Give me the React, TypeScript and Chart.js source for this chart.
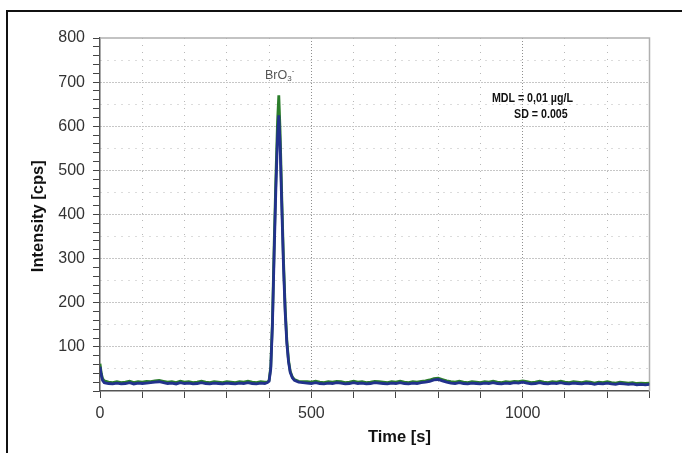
import React, { useEffect, useRef } from "react";
import { Chart, registerables } from "chart.js";

Chart.register(...registerables);

// ---- data ----
const TIME_S = [
  0, 3, 6, 10, 20, 30, 40, 50, 60, 70, 80, 90, 100, 110, 120, 130, 140, 150, 160, 170, 180, 190, 200,
  210, 220, 230, 240, 250, 260, 270, 280, 290, 300, 310, 320, 330, 340, 350, 360, 370, 380, 390,
  396, 400, 404, 408, 412, 416, 420, 423, 426, 430, 434, 438, 442, 446, 450, 455, 460, 470, 480,
  490, 500, 510, 520, 530, 540, 550, 560, 570, 580, 590, 600, 610, 620, 630, 640, 650, 660, 670, 680,
  690, 700, 710, 720, 730, 740, 750, 760, 770, 780, 790, 800, 810, 820, 830, 840, 850, 860, 870, 880,
  890, 900, 910, 920, 930, 940, 950, 960, 970, 980, 990, 1000, 1010, 1020, 1030, 1040, 1050, 1060, 1070, 1080,
  1090, 1100, 1110, 1120, 1130, 1140, 1150, 1160, 1170, 1180, 1190, 1200, 1210, 1220, 1230, 1240, 1250, 1260, 1270, 1280,
  1290, 1300,
];

const GREEN_CPS = [
  62, 40, 28, 23,
  20, 19, 21, 19, 20, 22, 19, 21, 20, 22,
  21, 23, 24, 22, 20, 21, 19, 22, 20, 21,
  19, 20, 22, 20, 19, 21, 20, 19, 21, 20,
  19, 21, 20, 22, 20, 19, 21, 20,
  20, 24, 55, 160, 330, 480, 610, 670, 590, 440, 300, 190, 115, 70, 45, 32, 26, 22, 21,
  21, 20, 22, 20, 19, 21, 20, 22, 21, 19,
  20, 22, 20, 21, 19, 20, 22, 21, 20, 19,
  21, 20, 22, 20, 19, 21, 20, 22, 23, 25,
  28, 29, 26, 23, 21, 20, 22, 20, 19, 21,
  20, 19, 21, 20, 22, 20, 19, 21, 20, 22,
  21, 23, 21, 19, 20, 22, 20, 19, 21, 20,
  22, 20, 19, 21, 20, 19, 21, 20, 18, 20,
  19, 21, 19, 18, 20, 19, 18, 19, 17, 18,
  17, 18,
];

const BLUE_CPS = [
  55, 36, 24, 19,
  17, 16, 18, 16, 17, 19, 16, 18, 17, 18,
  19, 20, 21, 19, 17, 18, 16, 19, 17, 18,
  16, 17, 19, 17, 16, 18, 17, 16, 18, 17,
  16, 18, 17, 19, 17, 16, 18, 17,
  19, 22, 50, 150, 310, 455, 575, 625, 560, 420, 285, 180, 108, 66, 42, 30, 24, 20, 19,
  18, 17, 19, 17, 16, 18, 17, 19, 18, 16,
  17, 19, 17, 18, 16, 17, 19, 18, 17, 16,
  18, 17, 19, 17, 16, 18, 17, 19, 20, 22,
  25, 26, 23, 20, 18, 17, 19, 17, 16, 18,
  17, 16, 18, 17, 19, 17, 16, 18, 17, 19,
  18, 20, 18, 16, 17, 19, 17, 16, 18, 17,
  19, 17, 16, 18, 17, 16, 18, 17, 15, 17,
  16, 18, 16, 15, 17, 16, 15, 16, 14, 15,
  14, 15,
];

const X_TICK_LABELS = [0, 500, 1000];
const Y_TICK_LABELS = [100, 200, 300, 400, 500, 600, 700, 800];

const X_TITLE = "Time [s]";
const Y_TITLE = "Intensity [cps]";
const PEAK_NAME = { base: "BrO", sub: "3", sup: "-", x: 423, y: 716 };
const NOTE_LINES = [
  { text: "MDL = 0,01 µg/L", x: 1023, y: 664 },
  { text: "SD = 0.005", x: 1043, y: 626 },
];

const FONT = "'Liberation Sans', Arial, sans-serif";

const textPlugin = {
  id: "texts",
  beforeDatasetsDraw(chart: any) {
    const { ctx, chartArea } = chart;
    ctx.save();
    ctx.strokeStyle = "#b0b0b0";
    ctx.lineWidth = 1.5;
    ctx.beginPath();
    ctx.moveTo(chartArea.left, chartArea.top);
    ctx.lineTo(chartArea.right, chartArea.top);
    ctx.lineTo(chartArea.right, chartArea.bottom);
    ctx.stroke();
    ctx.restore();
  },
  afterDraw(chart: any) {
    const { ctx, chartArea, scales } = chart;
    const xs = scales.x;
    const ys = scales.y;
    ctx.save();
    // axis titles
    ctx.fillStyle = "#111";
    ctx.font = `bold 16.5px ${FONT}`;
    ctx.textAlign = "center";
    ctx.textBaseline = "middle";
    ctx.fillText(X_TITLE, chartArea.left + (chartArea.right - chartArea.left) * 0.545, chartArea.bottom + 46);
    ctx.save();
    ctx.translate(38, chartArea.top + (chartArea.bottom - chartArea.top) * 0.505);
    ctx.rotate(-Math.PI / 2);
    ctx.fillText(Y_TITLE, 0, 0);
    ctx.restore();

    // peak label
    ctx.fillStyle = "#555";
    ctx.font = `12.5px ${FONT}`;
    const px = xs.getPixelForValue(PEAK_NAME.x);
    const py = ys.getPixelForValue(PEAK_NAME.y);
    const wBase = ctx.measureText(PEAK_NAME.base).width;
    ctx.font = `8px ${FONT}`;
    const wSub = ctx.measureText(PEAK_NAME.sub).width;
    const total = wBase + wSub + 1;
    const sx = px - total / 2;
    ctx.textAlign = "left";
    ctx.font = `12.5px ${FONT}`;
    ctx.fillText(PEAK_NAME.base, sx, py);
    ctx.font = `8px ${FONT}`;
    ctx.fillText(PEAK_NAME.sub, sx + wBase, py + 4);
    ctx.fillText(PEAK_NAME.sup, sx + wBase + wSub, py - 4);

    // notes (condensed bold look)
    ctx.fillStyle = "#111";
    ctx.font = `bold 13px ${FONT}`;
    ctx.textAlign = "center";
    for (const n of NOTE_LINES) {
      ctx.save();
      ctx.translate(xs.getPixelForValue(n.x), ys.getPixelForValue(n.y));
      ctx.scale(0.82, 1);
      ctx.fillText(n.text, 0, 0);
      ctx.restore();
    }
    ctx.restore();
  },
};

export default function App() {
  const ref = useRef<HTMLCanvasElement | null>(null);
  useEffect(() => {
    if (!ref.current) return;
    const blue = TIME_S.map((t, i) => ({ x: t, y: BLUE_CPS[i] }));
    const green = TIME_S.map((t, i) => ({ x: t, y: GREEN_CPS[i] }));
    const chart = new Chart(ref.current, {
      type: "line",
      data: {
        datasets: [
          {
            label: "blue",
            data: blue,
            borderColor: "#22318c",
            borderWidth: 2.8,
            pointRadius: 0,
            tension: 0,
            order: 0,
          },
          {
            label: "green",
            data: green,
            borderColor: "#2b7d2b",
            borderWidth: 2.8,
            pointRadius: 0,
            tension: 0,
            order: 1,
          },
        ],
      },
      options: {
        animation: false,
        responsive: false,
        maintainAspectRatio: false,
        layout: { padding: { top: 38, right: 32.5, left: 0, bottom: 0 } },
        plugins: { legend: { display: false }, tooltip: { enabled: false } },
        scales: {
          x: {
            type: "linear",
            min: 0,
            max: 1300,
            afterFit: (s: any) => {
              s.height = 62;
            },
            ticks: {
              stepSize: 100,
              autoSkip: false,
              maxRotation: 0,
              padding: 6,
              color: "#333",
              font: { family: FONT, size: 16 },
              callback: (v: any) => (X_TICK_LABELS.includes(Number(v)) ? String(v) : ""),
            },
            grid: {
              color: (c: any) =>
                c.tick && (c.tick.value === 0 || c.tick.value === 1300)
                  ? "rgba(0,0,0,0)"
                  : c.tick && c.tick.value % 500 === 0
                  ? "#8f8f8f"
                  : "#b8b8b8",
              tickColor: "#444",
              tickLength: 7,
              lineWidth: 1,
            },
            border: {
              color: "#555",
              width: 1.5,
              dash: (c: any) => (c.tick && c.tick.value % 500 === 0 ? [1, 2] : [1, 6]),
            },
          },
          y: {
            type: "linear",
            min: 0,
            max: 800,
            afterFit: (s: any) => {
              s.width = 100;
            },
            ticks: {
              stepSize: 10,
              autoSkip: false,
              padding: 8,
              color: "#333",
              font: { family: FONT, size: 16 },
              callback: (v: any) => (Y_TICK_LABELS.includes(Number(v)) ? String(v) : ""),
            },
            grid: {
              color: (c: any) => {
                const v = c.tick ? c.tick.value : -1;
                if (v <= 0 || v >= 800) return "rgba(0,0,0,0)";
                if (v % 100 === 0) return "#8f8f8f";
                if (v % 50 === 0) return "#b8b8b8";
                return "rgba(0,0,0,0)";
              },
              tickColor: (c: any) => {
                const v = c.tick ? c.tick.value : -1;
                return v % 20 === 0 || v % 100 === 0 ? "#444" : "rgba(0,0,0,0)";
              },
              tickLength: 7,
              lineWidth: 1,
            },
            border: {
              color: "#555",
              width: 1.5,
              dash: (c: any) => (c.tick && c.tick.value % 100 === 0 ? [1, 2] : [1, 6]),
            },
          },
        },
      },
      plugins: [textPlugin],
    } as any);
    return () => chart.destroy();
  }, []);

  return (
    <div style={{ position: "fixed", left: 0, top: 0, width: 682, height: 453, overflow: "hidden", background: "#fff" }}>
      <div
        style={{
          position: "absolute",
          left: 6,
          top: 10,
          width: 800,
          height: 800,
          border: "2px solid #111",
        }}
      />
      <canvas ref={ref} width={682} height={453} style={{ position: "absolute", left: 0, top: 0, width: 682, height: 453 }} />
    </div>
  );
}
